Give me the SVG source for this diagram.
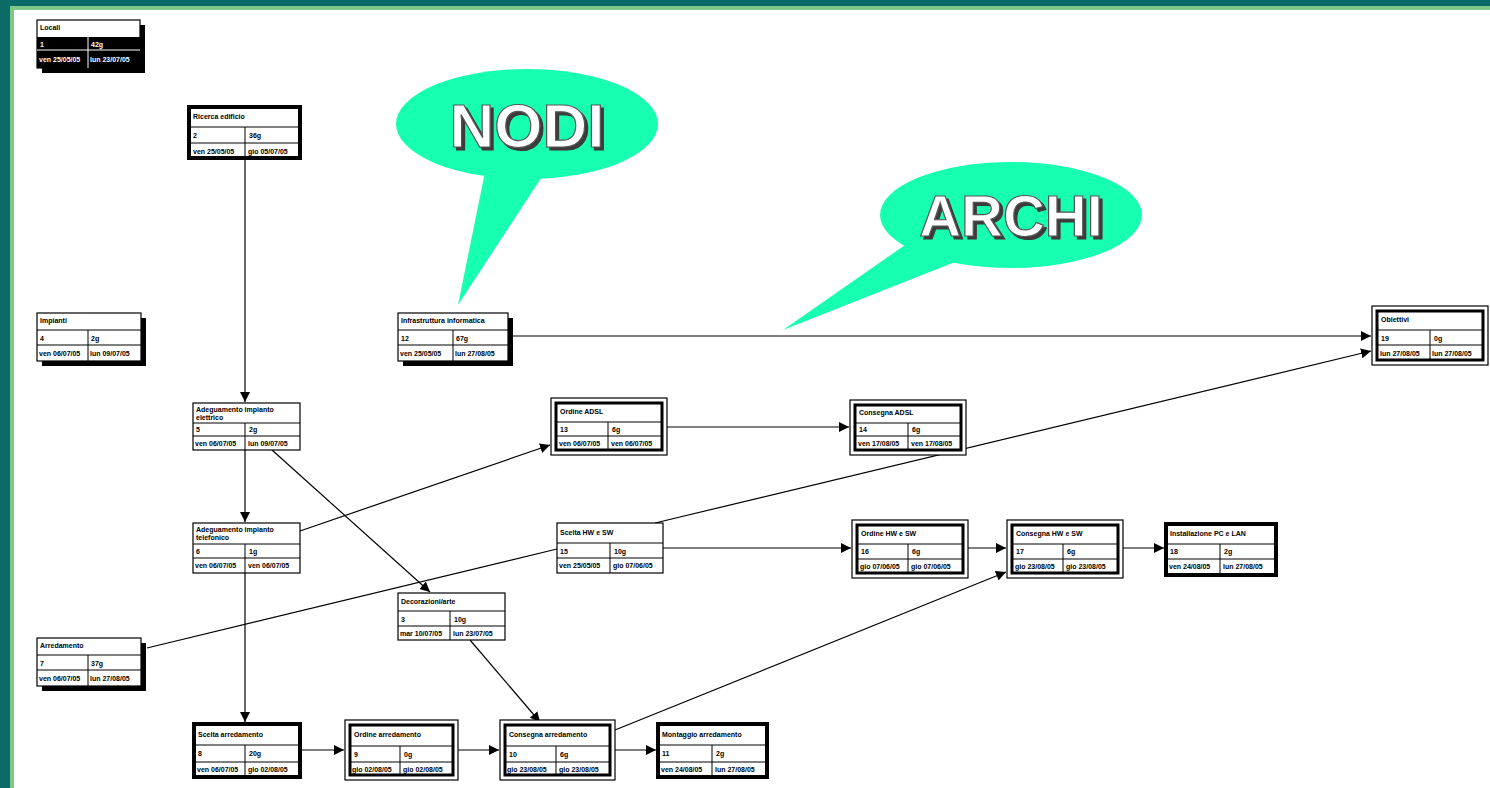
<svg xmlns="http://www.w3.org/2000/svg" width="1490" height="788" viewBox="0 0 1490 788">
<style>
.bg{fill:#ffffff}
.box{fill:#ffffff;stroke:#000;stroke-width:1.2}
.thick{fill:#ffffff;stroke:#000;stroke-width:4}
.inner{fill:none;stroke:#000;stroke-width:3}
.sh{fill:#000}
.ln{stroke:#000;stroke-width:1;fill:none}
.t{font-family:"Liberation Sans",Arial,sans-serif;font-size:7px;font-weight:bold;fill:#000}
.tw{font-family:"Liberation Sans",Arial,sans-serif;font-size:7px;font-weight:bold;fill:#fff}
.c{stroke:#000;stroke-width:1.2;fill:none}
.bubble{fill:#17ffb0}
.big{font-family:"Liberation Sans",Arial,sans-serif;font-weight:bold;fill:#fff;stroke:#555;stroke-width:1.2;filter:url(#ds)}
</style>
<defs>
<marker id="ah" viewBox="0 0 10 10" refX="10" refY="5" markerWidth="10" markerHeight="10" markerUnits="userSpaceOnUse" orient="auto">
<path d="M0,0 L10,5 L0,10 z" fill="#000"/>
</marker>
<filter id="ds" x="-10%" y="-20%" width="130%" height="150%">
<feDropShadow dx="3" dy="3" stdDeviation="0.3" flood-color="#3a3a3a" flood-opacity="1"/>
</filter>
</defs>
<!-- frame -->
<rect x="0" y="0" width="1490" height="788" fill="#0b6b66"/>
<rect x="10" y="6" width="1480" height="782" fill="#7ec88a"/>
<rect x="14" y="10" width="1476" height="778" class="bg"/>

<!-- connectors -->
<g id="connectors">
<line class="c" x1="245" y1="160" x2="245" y2="402" marker-end="url(#ah)"/>
<line class="c" x1="245" y1="450" x2="245" y2="522" marker-end="url(#ah)"/>
<line class="c" x1="245" y1="573" x2="245" y2="722" marker-end="url(#ah)"/>
<line class="c" x1="272" y1="450" x2="430" y2="592" marker-end="url(#ah)"/>
<line class="c" x1="300" y1="531" x2="550" y2="445" marker-end="url(#ah)"/>
<line class="c" x1="667" y1="427" x2="849" y2="427" marker-end="url(#ah)"/>
<line class="c" x1="509" y1="336" x2="1371" y2="336" marker-end="url(#ah)"/>
<line class="c" x1="655" y1="523" x2="1371" y2="351" marker-end="url(#ah)"/>
<line class="c" x1="147" y1="648" x2="557" y2="549"/>
<line class="c" x1="663" y1="548" x2="851" y2="548" marker-end="url(#ah)"/>
<line class="c" x1="968" y1="548" x2="1006" y2="548" marker-end="url(#ah)"/>
<line class="c" x1="1123" y1="548" x2="1164" y2="548" marker-end="url(#ah)"/>
<line class="c" x1="470" y1="640" x2="540" y2="722" marker-end="url(#ah)"/>
<line class="c" x1="300" y1="750" x2="344" y2="750" marker-end="url(#ah)"/>
<line class="c" x1="458" y1="750" x2="499" y2="750" marker-end="url(#ah)"/>
<line class="c" x1="615" y1="750" x2="656" y2="750" marker-end="url(#ah)"/>
<line class="c" x1="615" y1="730" x2="1006" y2="572" marker-end="url(#ah)"/>
</g>

<!-- Locali -->
<g id="n1">
<rect class="sh" x="42" y="25" width="103" height="48"/>
<rect class="box" x="37" y="20" width="103" height="48"/>
<rect x="37" y="37" width="103" height="31" fill="#000"/>
<line x1="37" y1="50" x2="140" y2="50" stroke="#fff"/>
<line x1="88" y1="37" x2="88" y2="68" stroke="#fff"/>
<text class="t" x="40" y="30">Locali</text>
<text class="tw" x="40" y="47">1</text><text class="tw" x="91" y="47">42g</text>
<text class="tw" x="39" y="62">ven 25/05/05</text><text class="tw" x="90" y="62">lun 23/07/05</text>
</g>

<!-- Ricerca edificio -->
<g id="n2">
<rect class="thick" x="189" y="107" width="111" height="51"/>
<line class="ln" x1="189" y1="127" x2="300" y2="127"/><line class="ln" x1="189" y1="143" x2="300" y2="143"/>
<line class="ln" x1="245" y1="127" x2="245" y2="158"/>
<text class="t" x="193" y="119">Ricerca edificio</text>
<text class="t" x="193" y="138">2</text><text class="t" x="249" y="138">36g</text>
<text class="t" x="193" y="154">ven 25/05/05</text><text class="t" x="248" y="154">gio 05/07/05</text>
</g>

<!-- Impianti -->
<g id="n3">
<rect class="sh" x="42" y="318" width="104" height="48"/>
<rect class="box" x="37" y="313" width="104" height="48"/>
<line class="ln" x1="37" y1="330" x2="141" y2="330"/><line class="ln" x1="37" y1="345" x2="141" y2="345"/>
<line class="ln" x1="88" y1="330" x2="88" y2="361"/>
<text class="t" x="40" y="323">Impianti</text>
<text class="t" x="40" y="341">4</text><text class="t" x="91" y="341">2g</text>
<text class="t" x="39" y="356">ven 06/07/05</text><text class="t" x="90" y="356">lun 09/07/05</text>
</g>

<!-- Infrastruttura informatica -->
<g id="n4">
<rect class="sh" x="403" y="318" width="110" height="48"/>
<rect class="box" x="398" y="313" width="110" height="48"/>
<line class="ln" x1="398" y1="330" x2="508" y2="330"/><line class="ln" x1="398" y1="345" x2="508" y2="345"/>
<line class="ln" x1="453" y1="330" x2="453" y2="361"/>
<text class="t" x="401" y="323">Infrastruttura informatica</text>
<text class="t" x="401" y="341">12</text><text class="t" x="456" y="341">67g</text>
<text class="t" x="400" y="356">ven 25/05/05</text><text class="t" x="455" y="356">lun 27/08/05</text>
</g>

<!-- Obiettivi -->
<g id="n5">
<rect class="box" x="1372" y="306" width="116" height="59"/>
<rect class="inner" x="1377" y="311" width="106" height="49"/>
<line class="ln" x1="1377" y1="330" x2="1483" y2="330"/><line class="ln" x1="1377" y1="345" x2="1483" y2="345"/>
<line class="ln" x1="1430" y1="330" x2="1430" y2="360"/>
<text class="t" x="1381" y="322">Obiettivi</text>
<text class="t" x="1381" y="341">19</text><text class="t" x="1434" y="341">0g</text>
<text class="t" x="1380" y="356">lun 27/08/05</text><text class="t" x="1432" y="356">lun 27/08/05</text>
</g>

<!-- Adeguamento impianto elettrico -->
<g id="n6">
<rect class="box" x="193" y="403" width="107" height="47"/>
<line class="ln" x1="193" y1="423" x2="300" y2="423"/><line class="ln" x1="193" y1="436" x2="300" y2="436"/>
<line class="ln" x1="245" y1="423" x2="245" y2="450"/>
<text class="t" x="196" y="412">Adeguamento impianto</text>
<text class="t" x="196" y="420">elettrico</text>
<text class="t" x="196" y="432">5</text><text class="t" x="249" y="432">2g</text>
<text class="t" x="195" y="446">ven 06/07/05</text><text class="t" x="248" y="446">lun 09/07/05</text>
</g>

<!-- Ordine ADSL -->
<g id="n7">
<rect class="box" x="551" y="398" width="116" height="57"/>
<rect class="inner" x="556" y="403" width="106" height="47"/>
<line class="ln" x1="556" y1="422" x2="662" y2="422"/><line class="ln" x1="556" y1="436" x2="662" y2="436"/>
<line class="ln" x1="608" y1="422" x2="608" y2="450"/>
<text class="t" x="560" y="414">Ordine ADSL</text>
<text class="t" x="560" y="432">13</text><text class="t" x="612" y="432">6g</text>
<text class="t" x="559" y="446">ven 06/07/05</text><text class="t" x="611" y="446">ven 06/07/05</text>
</g>

<!-- Consegna ADSL -->
<g id="n8">
<rect class="box" x="850" y="400" width="116" height="55"/>
<rect class="inner" x="855" y="405" width="106" height="45"/>
<line class="ln" x1="855" y1="423" x2="961" y2="423"/><line class="ln" x1="855" y1="436" x2="961" y2="436"/>
<line class="ln" x1="908" y1="423" x2="908" y2="450"/>
<text class="t" x="859" y="415">Consegna ADSL</text>
<text class="t" x="859" y="432">14</text><text class="t" x="912" y="432">6g</text>
<text class="t" x="858" y="446">ven 17/08/05</text><text class="t" x="911" y="446">ven 17/08/05</text>
</g>

<!-- Adeguamento impianto telefonico -->
<g id="n9">
<rect class="box" x="193" y="523" width="107" height="50"/>
<line class="ln" x1="193" y1="544" x2="300" y2="544"/><line class="ln" x1="193" y1="558" x2="300" y2="558"/>
<line class="ln" x1="245" y1="544" x2="245" y2="573"/>
<text class="t" x="196" y="532">Adeguamento impianto</text>
<text class="t" x="196" y="540">telefonico</text>
<text class="t" x="196" y="554">6</text><text class="t" x="249" y="554">1g</text>
<text class="t" x="195" y="568">ven 06/07/05</text><text class="t" x="248" y="568">ven 06/07/05</text>
</g>

<!-- Scelta HW e SW -->
<g id="n10">
<rect class="box" x="557" y="523" width="106" height="50"/>
<line class="ln" x1="557" y1="543" x2="663" y2="543"/><line class="ln" x1="557" y1="558" x2="663" y2="558"/>
<line class="ln" x1="610" y1="543" x2="610" y2="573"/>
<text class="t" x="560" y="535">Scelta HW e SW</text>
<text class="t" x="560" y="554">15</text><text class="t" x="614" y="554">10g</text>
<text class="t" x="559" y="568">ven 25/05/05</text><text class="t" x="613" y="568">gio 07/06/05</text>
</g>

<!-- Ordine HW e SW -->
<g id="n11">
<rect class="box" x="852" y="520" width="116" height="58"/>
<rect class="inner" x="857" y="525" width="106" height="48"/>
<line class="ln" x1="857" y1="544" x2="963" y2="544"/><line class="ln" x1="857" y1="559" x2="963" y2="559"/>
<line class="ln" x1="908" y1="544" x2="908" y2="573"/>
<text class="t" x="861" y="536">Ordine HW e SW</text>
<text class="t" x="861" y="554">16</text><text class="t" x="912" y="554">6g</text>
<text class="t" x="860" y="569">gio 07/06/05</text><text class="t" x="911" y="569">gio 07/06/05</text>
</g>

<!-- Consegna HW e SW -->
<g id="n12">
<rect class="box" x="1007" y="520" width="116" height="58"/>
<rect class="inner" x="1012" y="525" width="106" height="48"/>
<line class="ln" x1="1012" y1="544" x2="1118" y2="544"/><line class="ln" x1="1012" y1="559" x2="1118" y2="559"/>
<line class="ln" x1="1063" y1="544" x2="1063" y2="573"/>
<text class="t" x="1016" y="536">Consegna HW e SW</text>
<text class="t" x="1016" y="554">17</text><text class="t" x="1067" y="554">6g</text>
<text class="t" x="1015" y="569">gio 23/08/05</text><text class="t" x="1066" y="569">gio 23/08/05</text>
</g>

<!-- Installazione PC e LAN -->
<g id="n13">
<rect class="thick" x="1166" y="524" width="110" height="51"/>
<line class="ln" x1="1166" y1="544" x2="1276" y2="544"/><line class="ln" x1="1166" y1="559" x2="1276" y2="559"/>
<line class="ln" x1="1220" y1="544" x2="1220" y2="575"/>
<text class="t" x="1170" y="536">Installazione PC e LAN</text>
<text class="t" x="1170" y="554">18</text><text class="t" x="1224" y="554">2g</text>
<text class="t" x="1169" y="569">ven 24/08/05</text><text class="t" x="1223" y="569">lun 27/08/05</text>
</g>

<!-- Decorazioni/arte -->
<g id="n14">
<rect class="box" x="398" y="593" width="107" height="47"/>
<line class="ln" x1="398" y1="611" x2="505" y2="611"/><line class="ln" x1="398" y1="626" x2="505" y2="626"/>
<line class="ln" x1="450" y1="611" x2="450" y2="640"/>
<text class="t" x="401" y="604">Decorazioni/arte</text>
<text class="t" x="401" y="622">3</text><text class="t" x="454" y="622">10g</text>
<text class="t" x="400" y="636">mar 10/07/05</text><text class="t" x="453" y="636">lun 23/07/05</text>
</g>

<!-- Arredamento -->
<g id="n15">
<rect class="sh" x="42" y="643" width="104" height="48"/>
<rect class="box" x="37" y="638" width="104" height="48"/>
<line class="ln" x1="37" y1="655" x2="141" y2="655"/><line class="ln" x1="37" y1="670" x2="141" y2="670"/>
<line class="ln" x1="88" y1="655" x2="88" y2="686"/>
<text class="t" x="40" y="648">Arredamento</text>
<text class="t" x="40" y="666">7</text><text class="t" x="91" y="666">37g</text>
<text class="t" x="39" y="681">ven 06/07/05</text><text class="t" x="90" y="681">lun 27/08/05</text>
</g>

<!-- Scelta arredamento -->
<g id="n16">
<rect class="thick" x="194" y="724" width="106" height="53"/>
<line class="ln" x1="194" y1="745" x2="300" y2="745"/><line class="ln" x1="194" y1="762" x2="300" y2="762"/>
<line class="ln" x1="245" y1="745" x2="245" y2="777"/>
<text class="t" x="198" y="737">Scelta arredamento</text>
<text class="t" x="198" y="756">8</text><text class="t" x="249" y="756">20g</text>
<text class="t" x="197" y="772">ven 06/07/05</text><text class="t" x="248" y="772">gio 02/08/05</text>
</g>

<!-- Ordine arredamento -->
<g id="n17">
<rect class="box" x="345" y="720" width="113" height="60"/>
<rect class="inner" x="350" y="725" width="103" height="50"/>
<line class="ln" x1="350" y1="746" x2="453" y2="746"/><line class="ln" x1="350" y1="762" x2="453" y2="762"/>
<line class="ln" x1="400" y1="746" x2="400" y2="775"/>
<text class="t" x="354" y="737">Ordine arredamento</text>
<text class="t" x="354" y="757">9</text><text class="t" x="404" y="757">0g</text>
<text class="t" x="352" y="772">gio 02/08/05</text><text class="t" x="403" y="772">gio 02/08/05</text>
</g>

<!-- Consegna arredamento -->
<g id="n18">
<rect class="box" x="500" y="720" width="115" height="60"/>
<rect class="inner" x="505" y="725" width="105" height="50"/>
<line class="ln" x1="505" y1="746" x2="610" y2="746"/><line class="ln" x1="505" y1="762" x2="610" y2="762"/>
<line class="ln" x1="556" y1="746" x2="556" y2="775"/>
<text class="t" x="509" y="737">Consegna arredamento</text>
<text class="t" x="509" y="757">10</text><text class="t" x="560" y="757">6g</text>
<text class="t" x="507" y="772">gio 23/08/05</text><text class="t" x="559" y="772">gio 23/08/05</text>
</g>

<!-- Montaggio arredamento -->
<g id="n19">
<rect class="thick" x="658" y="724" width="109" height="53"/>
<line class="ln" x1="658" y1="745" x2="767" y2="745"/><line class="ln" x1="658" y1="762" x2="767" y2="762"/>
<line class="ln" x1="712" y1="745" x2="712" y2="777"/>
<text class="t" x="662" y="737">Montaggio arredamento</text>
<text class="t" x="662" y="756">11</text><text class="t" x="716" y="756">2g</text>
<text class="t" x="661" y="772">ven 24/08/05</text><text class="t" x="715" y="772">lun 27/08/05</text>
</g>

<!-- callouts -->
<g id="callout-nodi">
<path class="bubble" d="M485,172 L458,305 L545,172 z"/>
<ellipse class="bubble" cx="527" cy="124" rx="131" ry="55"/>
<text class="big" x="527" y="147" font-size="62" text-anchor="middle">NODI</text>
</g>
<g id="callout-archi">
<path class="bubble" d="M905,245 L783,330 L955,262 z"/>
<ellipse class="bubble" cx="1011" cy="215" rx="131" ry="53"/>
<text class="big" x="1011" y="236" font-size="58" text-anchor="middle">ARCHI</text>
</g>
</svg>
